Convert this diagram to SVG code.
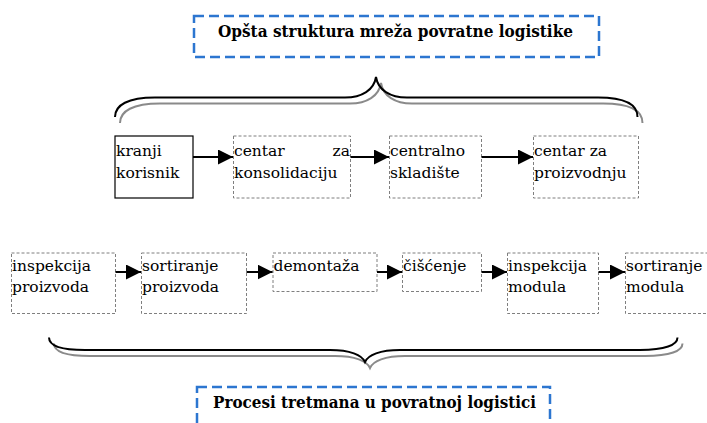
<svg xmlns="http://www.w3.org/2000/svg" width="707" height="423" viewBox="0 0 707 423">
<defs>
<marker id="ah" viewBox="0 0 10 10" refX="10" refY="5" markerWidth="7.5" markerHeight="7.5" markerUnits="strokeWidth" orient="auto">
<path d="M0,0 L10,5 L0,10 Z" fill="#000"/>
</marker>
<style>
.t{font-family:"DejaVu Serif","Liberation Serif",serif;font-size:15.5px;fill:#000}
.tb{font-family:"DejaVu Serif","Liberation Serif",serif;font-size:16.5px;font-weight:bold;fill:#000}
.db{fill:none;stroke:#2c76d0;stroke-width:2.5;stroke-dasharray:10 5}
.dg{fill:#fff;stroke:#7f7f7f;stroke-width:1;stroke-dasharray:3 2}
.sb{fill:#fff;stroke:#000;stroke-width:1.2}
.ar{stroke:#000;stroke-width:2;fill:none;marker-end:url(#ah)}
.br{fill:none;stroke:#000;stroke-width:2}
.bs{fill:none;stroke:#8a8a8a;stroke-width:2}
</style>
</defs>
<rect width="707" height="423" fill="#fff"/>

<g id="title-top">
<rect class="db" x="194" y="16" width="405" height="41"/>
<text class="tb" x="218" y="37" textLength="355" lengthAdjust="spacingAndGlyphs">Opšta struktura mreža povratne logistike</text>
</g>

<g id="brace-top">
<path class="bs" transform="translate(5,6)" d="M115,117 C115,105 128,97.5 155,97.5 L345,97.5 C362,97.5 374,90 376,77 C378,90 390,97.5 407,97.5 L598,97.5 C625,97.5 637.5,105 637.5,117"/>
<path class="br" d="M115,117 C115,105 128,97.5 155,97.5 L345,97.5 C362,97.5 374,90 376,77 C378,90 390,97.5 407,97.5 L598,97.5 C625,97.5 637.5,105 637.5,117"/>
</g>

<g id="n-kranji">
<rect class="sb" x="115" y="136" width="78" height="62"/>
<text class="t" x="116" y="156">kranji</text>
<text class="t" x="116" y="178">korisnik</text>
</g>
<g id="n-konsolidacija">
<rect class="dg" x="233.5" y="136" width="117" height="62"/>
<text class="t" x="234" y="156">centar</text>
<text class="t" x="350" y="156" text-anchor="end">za</text>
<text class="t" x="234" y="178">konsolidaciju</text>
</g>
<g id="n-skladiste">
<rect class="dg" x="389.5" y="136" width="92" height="62"/>
<text class="t" x="390" y="156">centralno</text>
<text class="t" x="390" y="178">skladište</text>
</g>
<g id="n-proizvodnja">
<rect class="dg" x="533.5" y="136" width="105" height="62"/>
<text class="t" x="534" y="156">centar za</text>
<text class="t" x="534" y="178">proizvodnju</text>
</g>

<g id="n-insp-proizvoda">
<rect class="dg" x="11.5" y="253" width="104" height="60.5"/>
<text class="t" x="12" y="271">inspekcija</text>
<text class="t" x="12" y="292">proizvoda</text>
</g>
<g id="n-sort-proizvoda">
<rect class="dg" x="141.5" y="253" width="105" height="60.5"/>
<text class="t" x="142" y="271">sortiranje</text>
<text class="t" x="142" y="292">proizvoda</text>
</g>
<g id="n-demontaza">
<rect class="dg" x="273" y="253" width="104" height="38.5"/>
<text class="t" x="273.5" y="271">demontaža</text>
</g>
<g id="n-ciscenje">
<rect class="dg" x="402.5" y="253" width="79" height="38.5"/>
<text class="t" x="403" y="271">čišćenje</text>
</g>
<g id="n-insp-modula">
<rect class="dg" x="507.5" y="253" width="91" height="60.5"/>
<text class="t" x="508" y="271">inspekcija</text>
<text class="t" x="508" y="292">modula</text>
</g>
<g id="n-sort-modula">
<rect class="dg" x="625.5" y="253" width="85" height="60.5"/>
<text class="t" x="626" y="271">sortiranje</text>
<text class="t" x="626" y="292">modula</text>
</g>

<g id="connectors">
<line class="ar" x1="193" y1="157" x2="233" y2="157"/>
<line class="ar" x1="350.5" y1="157" x2="389" y2="157"/>
<line class="ar" x1="481.5" y1="157" x2="533" y2="157"/>
<line class="ar" x1="115.5" y1="272" x2="141" y2="272"/>
<line class="ar" x1="246.5" y1="272" x2="272.5" y2="272"/>
<line class="ar" x1="377" y1="272" x2="402" y2="272"/>
<line class="ar" x1="481.5" y1="272" x2="507" y2="272"/>
<line class="ar" x1="598.5" y1="272" x2="625" y2="272"/>
</g>

<g id="brace-bottom">
<path class="bs" transform="translate(5,6)" d="M49,337.5 C49,345 60,350 85,350 L330,350 C350,350 362,355 365,362 C368,355 380,350 400,350 L640,350 C665,350 677.5,345 677.5,337.5"/>
<path class="br" d="M49,337.5 C49,345 60,350 85,350 L330,350 C350,350 362,355 365,362 C368,355 380,350 400,350 L640,350 C665,350 677.5,345 677.5,337.5"/>
</g>

<g id="title-bottom">
<rect class="db" x="197" y="387" width="353" height="40"/>
<text class="tb" x="213" y="408" textLength="323" lengthAdjust="spacingAndGlyphs">Procesi tretmana u povratnoj logistici</text>
</g>
</svg>
